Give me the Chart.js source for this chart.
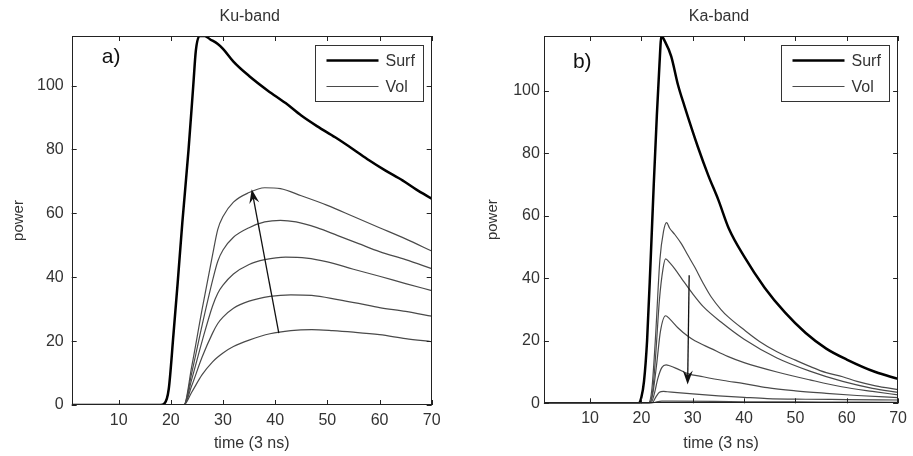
<!DOCTYPE html>
<html>
<head>
<meta charset="utf-8">
<script src="https://cdn.jsdelivr.net/npm/chart.js@4.4.1/dist/chart.umd.min.js"></script>
<style>
  html, body { margin: 0; padding: 0; background: #fff; }
  #wrap { position: relative; width: 913px; height: 456px; }
  #wrap canvas { position: absolute; top: 0; }
</style>
</head>
<body>
<div id="wrap">
  <canvas id="kuChart" width="453" height="456" style="left:0;width:453px;height:456px"></canvas>
  <canvas id="kaChart" width="460" height="456" style="left:453px;width:460px;height:456px"></canvas>
</div>
<script>
// values, as [time, power] pairs
const xTicks = [10, 20, 30, 40, 50, 60, 70];
const yTicks = [0, 20, 40, 60, 80, 100];
const legendLabels = ['Surf', 'Vol'];

// a) Ku-band
const kuSurf = [[1,0],[18,0],[18.8,0.5],[19.6,5],[20.5,22],[21.3,38],[22.2,57],[23.4,80],[24.3,100],[24.8,111],[25.5,115.5],[26.5,115.5],
  [27.5,114.5],[29,113],[30,111.5],[32,107.5],[35,103],[38.6,98.4],[42,94.5],[45,90.6],[48,87.3],[51.5,83.8],[55,80],[58,76.6],[61,73.5],[64.4,70.3],[67,67.5],[70,64.6]];
const kuVol1 = [[1,0],[22.5,0],[24,4],[26,9.5],[28,13.5],[29,15],[30,16.3],[32,18.3],[35,20.3],[39,22.3],[43,23.3],[47,23.6],[51,23.3],[55,22.8],[60,22],[65,20.8],[70,19.8]];
const kuVol2 = [[1,0],[22.5,0],[24,6],[26,15],[28,22.5],[29,25.5],[30,27.5],[32,30.3],[35,32.5],[39,34],[43,34.5],[47,34.3],[52,33],[56,31.8],[60,30.5],[65,29.3],[70,27.8]];
const kuVol3 = [[1,0],[22.5,0],[24,8],[26,20],[28,31],[29,35],[30,37.5],[32,41],[35,44],[38,45.5],[42,46.3],[46,46],[50,44.8],[55,42.5],[60,40.3],[65,38],[70,35.8]];
const kuVol4 = [[1,0],[22.5,0],[24,10],[26,25],[28,39],[29,45],[30,48.5],[32,52.5],[35,55.5],[38,57.3],[41,57.8],[44,57.3],[48,55.5],[52,53],[56,50.5],[60,48],[65,45.5],[70,42.7]];
const kuVol5 = [[1,0],[22.5,0],[24,12],[26,30],[28,47],[29,55],[30,59],[32,63.5],[35,66.5],[38,68],[41,67.7],[45,65.5],[50,62.5],[55,59],[60,55.5],[65,52],[70,48.2]];
const kuArrow = [[40.7,22.5],[35.5,67.5]];

// b) Ka-band
const kaSurf = [[1,0],[19.4,0],[20,2],[20.5,7],[21.1,20],[21.8,46],[22.4,70],[23,92],[23.5,108],[23.9,117.5],[24.5,116],[25.8,111],[27.1,102],
  [28.4,95],[31,82],[33,73],[35,65],[37,56],[40,47],[44,37],[48,29],[52,22.5],[56,17.5],[60,14],[65.6,10],[70,7.8]];
const kaVol1 = [[1,0],[22,0],[23,0.5],[24,0.7],[26,0.7],[40,0.5],[55,0.4],[70,0.3]];
const kaVol2 = [[1,0],[22,0],[22.8,2],[23.5,3.5],[24.3,3.8],[25,3.7],[27,3.4],[30,3],[35,2.4],[40,1.9],[44.5,1.5],[52,1.3],[60,1.2],[70,1.05]];
const kaVol3 = [[1,0],[21.8,0],[22.5,3],[23.2,8],[24,11.5],[24.8,12.3],[25.5,12],[27,11],[29,9.5],[32,8.5],[36,7.3],[40,6.3],[44.5,5],[50,4],[56,3.2],[62,2.5],[70,1.8]];
const kaVol4 = [[1,0],[21.6,0],[22.3,4],[23,13],[23.7,23],[24.7,28],[25.5,27],[27.2,24],[29,21.5],[30.4,20],[33.6,17.5],[36.8,15],[40,13],[46.4,10],[52.8,7.5],[59,5.3],[65,3.8],[70,2.7]];
const kaVol5 = [[1,0],[21.5,0],[22.2,4],[22.8,16],[23.5,33],[24.2,43],[24.7,46.2],[25.5,45],[26.5,43],[28,39.5],[30,35],[32,31],[35.5,26],[40,20.5],[46.4,14.5],[52.8,10.3],[59.2,7],[65,4.8],[70,3.5]];
const kaVol6 = [[1,0],[21.3,0],[22,4],[22.7,20],[23.6,46],[24.3,55],[24.9,57.8],[25.5,56],[26.5,54],[27.8,51],[29,47.5],[30.4,43.5],[32,38.5],[33.6,34],[35.5,30],
  [36.8,27.8],[40,23.5],[43,19.8],[46.4,16.5],[50,13.8],[52.8,11.8],[56,9.8],[59.2,8.5],[62,7],[65.6,5.6],[70,4.4]];
const kaArrow = [[29.3,41],[29,6]];

const FONT = "'Liberation Sans', Arial, sans-serif";
const TEXT = '#333';

function toPoints(pairs) {
  return pairs.map(p => ({ x: p[0], y: p[1] }));
}

function surfSet(pairs) {
  return { label: 'Surf', data: toPoints(pairs), borderColor: '#000', borderWidth: 2.5 };
}

function volSet(pairs, first) {
  return { label: first ? 'Vol' : '', data: toPoints(pairs), borderColor: '#4a4a4a', borderWidth: 1.2 };
}

// frame, inward ticks, title, panel letter, arrow and legend, drawn like MATLAB does
const panelDecor = {
  id: 'panelDecor',
  afterDraw(chart, args, opts) {
    const { ctx, chartArea: a, scales: { x, y } } = chart;
    ctx.save();
    ctx.strokeStyle = '#222';
    ctx.lineWidth = 1;
    ctx.strokeRect(Math.round(a.left) + 0.5, Math.round(a.top) + 0.5, Math.round(a.width) - 1, Math.round(a.height) - 1);

    ctx.beginPath();
    xTicks.forEach(v => {
      const px = Math.round(x.getPixelForValue(v)) + 0.5;
      ctx.moveTo(px, a.bottom); ctx.lineTo(px, a.bottom - 5);
      ctx.moveTo(px, a.top); ctx.lineTo(px, a.top + 5);
    });
    yTicks.forEach(v => {
      const py = Math.round(y.getPixelForValue(v)) + 0.5;
      ctx.moveTo(a.left, py); ctx.lineTo(a.left + 5, py);
      ctx.moveTo(a.right, py); ctx.lineTo(a.right - 5, py);
    });
    ctx.stroke();

    // title
    ctx.fillStyle = TEXT;
    ctx.font = '16px ' + FONT;
    ctx.textAlign = 'center';
    ctx.textBaseline = 'middle';
    ctx.fillText(opts.title, (a.left + a.right) / 2 - 2, 17);

    // panel letter
    ctx.fillStyle = '#111';
    ctx.font = '21px ' + FONT;
    ctx.textAlign = 'left';
    ctx.textBaseline = 'alphabetic';
    ctx.fillText(opts.letter, a.left + opts.letterPos[0], a.top + opts.letterPos[1]);

    // arrow
    const [t, h] = opts.arrow;
    const x0 = x.getPixelForValue(t[0]), y0 = y.getPixelForValue(t[1]);
    const x1 = x.getPixelForValue(h[0]), y1 = y.getPixelForValue(h[1]);
    const ang = Math.atan2(y1 - y0, x1 - x0);
    ctx.strokeStyle = '#111';
    ctx.fillStyle = '#111';
    ctx.lineWidth = 1.3;
    ctx.beginPath();
    ctx.moveTo(x0, y0);
    ctx.lineTo(x1 - 8 * Math.cos(ang), y1 - 8 * Math.sin(ang));
    ctx.stroke();
    const len = 14, half = 5;
    const bx = x1 - len * Math.cos(ang), by = y1 - len * Math.sin(ang);
    const nx = -Math.sin(ang), ny = Math.cos(ang);
    ctx.beginPath();
    ctx.moveTo(x1, y1);
    ctx.lineTo(bx + half * nx, by + half * ny);
    ctx.lineTo(x1 - 9 * Math.cos(ang), y1 - 9 * Math.sin(ang));
    ctx.lineTo(bx - half * nx, by - half * ny);
    ctx.closePath();
    ctx.fill();

    // legend box
    const bw = 108, bh = 56;
    const lx = Math.round(a.right - 9 - bw) + 0.5, ly = Math.round(a.top + 9) + 0.5;
    ctx.fillStyle = '#fff';
    ctx.fillRect(lx, ly, bw, bh);
    ctx.strokeStyle = '#333';
    ctx.lineWidth = 1;
    ctx.strokeRect(lx, ly, bw, bh);
    ctx.font = '16px ' + FONT;
    ctx.textBaseline = 'middle';
    legendLabels.forEach((lab, i) => {
      const ds = chart.data.datasets.find(d => d.label === lab);
      const yy = ly + 15 + i * 26;
      ctx.strokeStyle = ds.borderColor;
      ctx.lineWidth = ds.borderWidth;
      ctx.beginPath();
      ctx.moveTo(lx + 11, yy);
      ctx.lineTo(lx + 63, yy);
      ctx.stroke();
      ctx.fillStyle = TEXT;
      ctx.fillText(lab, lx + 70, yy + 1);
    });
    ctx.restore();
  }
};

function makePanel(canvasId, datasets, cfg) {
  return new Chart(document.getElementById(canvasId), {
    type: 'line',
    data: { datasets },
    options: {
      responsive: false,
      animation: false,
      events: [],
      layout: { padding: cfg.padding },
      elements: {
        point: { radius: 0 },
        line: { cubicInterpolationMode: 'monotone', fill: false }
      },
      scales: {
        x: {
          type: 'linear',
          min: 1,
          max: 70,
          grid: { display: false, drawTicks: false },
          border: { display: false },
          afterBuildTicks: s => { s.ticks = xTicks.map(v => ({ value: v })); },
          afterFit: s => { s.height = cfg.xHeight; },
          ticks: { color: TEXT, font: { family: FONT, size: 16 }, padding: 6, maxRotation: 0 },
          title: { display: true, text: 'time (3 ns)', color: TEXT, font: { family: FONT, size: 16 }, padding: { top: 0, bottom: cfg.xTitlePad } }
        },
        y: {
          type: 'linear',
          min: 0,
          max: cfg.yMax,
          grid: { display: false, drawTicks: false },
          border: { display: false },
          afterBuildTicks: s => { s.ticks = yTicks.map(v => ({ value: v })); },
          afterFit: s => { s.width = cfg.yWidth; },
          ticks: { color: TEXT, font: { family: FONT, size: 16 }, padding: cfg.yTickPad },
          title: { display: true, text: 'power', color: TEXT, font: { family: FONT, size: 15 }, padding: { top: 10, bottom: 0 } }
        }
      },
      plugins: {
        legend: { display: false },
        tooltip: { enabled: false },
        panelDecor: cfg.decor
      }
    },
    plugins: [panelDecor]
  });
}

makePanel('kuChart',
  [surfSet(kuSurf), volSet(kuVol1, true), volSet(kuVol2), volSet(kuVol3), volSet(kuVol4), volSet(kuVol5)],
  {
    padding: { top: 36, left: 0, right: 21.3, bottom: 0 },
    xHeight: 51, xTitlePad: 2.4, yWidth: 71.7, yTickPad: 8, yMax: 115.5,
    decor: { title: 'Ku-band', letter: 'a)', letterPos: [30, 27], arrow: kuArrow }
  });

makePanel('kaChart',
  [surfSet(kaSurf), volSet(kaVol6, true), volSet(kaVol5), volSet(kaVol4), volSet(kaVol3), volSet(kaVol2), volSet(kaVol1)],
  {
    padding: { top: 36, left: 21, right: 8.3, bottom: 0 },
    xHeight: 52.7, xTitlePad: 2.7, yWidth: 69.9, yTickPad: 4, yMax: 117.5,
    decor: { title: 'Ka-band', letter: 'b)', letterPos: [29, 32], arrow: kaArrow }
  });
</script>
</body>
</html>
